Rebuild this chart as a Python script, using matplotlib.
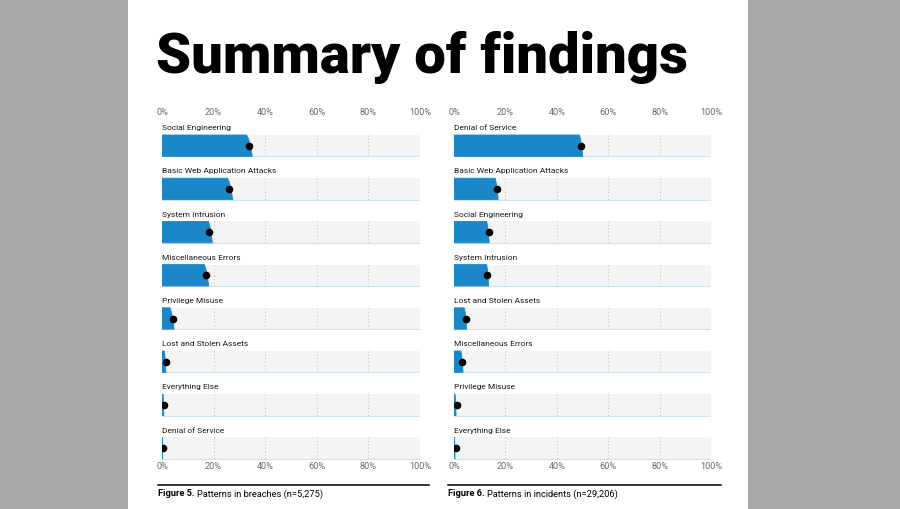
import matplotlib
matplotlib.use("Agg")
import matplotlib.pyplot as plt
from matplotlib.patches import Polygon, Rectangle
from matplotlib.lines import Line2D
import matplotlib.transforms as mtransforms

# ---------------- data ----------------
left_categories = ["Social Engineering", "Basic Web Application Attacks", "System Intrusion",
                   "Miscellaneous Errors", "Privilege Misuse", "Lost and Stolen Assets",
                   "Everything Else", "Denial of Service"]
left_values = [33.6, 26.1, 18.4, 17.1, 4.1, 1.4, 0.7, 0.2]
left_bar_top = [32.8, 25.4, 18.0, 16.4, 3.1, 0.9, 0.4, 0.1]
left_bar_bottom = [35.0, 27.4, 19.5, 18.1, 4.7, 1.5, 0.7, 0.2]

right_categories = ["Denial of Service", "Basic Web Application Attacks", "Social Engineering",
                    "System Intrusion", "Lost and Stolen Assets", "Miscellaneous Errors",
                    "Privilege Misuse", "Everything Else"]
right_values = [49.4, 16.8, 13.5, 13.0, 4.5, 3.2, 1.0, 0.6]
right_bar_top = [48.8, 16.0, 12.7, 12.7, 4.0, 2.7, 0.4, 0.2]
right_bar_bottom = [50.1, 17.2, 13.7, 13.5, 4.9, 3.5, 0.8, 0.4]

tick_values = [0, 20, 40, 60, 80, 100]
tick_labels = ["0%", "20%", "40%", "60%", "80%", "100%"]

title_text = "Summary of findings"
left_caption = ("Figure 5.", "Patterns in breaches (n=5,275)")
right_caption = ("Figure 6.", "Patterns in incidents (n=29,206)")

# ---------------- style ----------------
W, H = 900, 510
BLUE = "#1b87c9"
BAND = "#f4f4f4"
BAND_EDGE = "#cfe3f0"
GRID = "#bdbdbd"
PAGE_BG = "#a8a8a8"
FONT = ["Roboto", "DejaVu Sans"]

fig = plt.figure(figsize=(W / 100, H / 100), dpi=100)
fig.patch.set_facecolor(PAGE_BG)

page = fig.add_axes([0, 0, 1, 1])
page.set_xlim(0, W)
page.set_ylim(H, 0)
page.axis("off")
page.add_patch(Rectangle((128, 0), 620, H, facecolor="white", edgecolor="none"))

page.text(156, 73, title_text, fontsize=40.5, fontweight=900, family=FONT,
          ha="left", va="baseline", color="black")

BAND_H = 0.495
Y_TOP, Y_BOT = -0.6, 7.3


def panel(x0, x1, cats, vals, btop, bbot):
    row_pitch = 43.2
    top_px = 146.7 + Y_TOP * row_pitch
    bot_px = 146.7 + Y_BOT * row_pitch
    ax = fig.add_axes([x0 / W, 1 - bot_px / H, (x1 - x0) / W, (bot_px - top_px) / H])
    ax.set_xlim(0, 100)
    ax.set_ylim(Y_BOT, Y_TOP)
    ax.axis("off")
    ax.patch.set_alpha(0)
    for i, (c, v, t, b) in enumerate(zip(cats, vals, btop, bbot)):
        y0 = i - BAND_H / 2
        y1 = i + BAND_H / 2
        ax.add_patch(Rectangle((0, y0), 100, BAND_H, facecolor=BAND, edgecolor="none", zorder=1))
        ax.plot([0, 100], [y1, y1], color=BAND_EDGE, lw=0.8, zorder=2, solid_capstyle="butt")
        ax.vlines(tick_values[1:], y0, y1, colors=GRID, linestyles=(0, (1, 2.5)), lw=0.7, zorder=2)
        poly = [(0, y0), (t, y0), (t + (b - t) * 0.35, y0 + BAND_H * 0.2),
                (t + (b - t) * 0.7, y0 + BAND_H * 0.55), (b, y1), (0, y1)]
        ax.add_patch(Polygon(poly, closed=True, facecolor=BLUE, edgecolor=BLUE, lw=0.6, zorder=3))
        ax.scatter([v], [i], s=30, color="black", zorder=4, linewidths=0)
        ax.text(0, i - 0.43, c, fontsize=6.0, family=FONT, color="#1a1a1a",
                ha="left", va="center")
    tr = mtransforms.blended_transform_factory(ax.transData, fig.transFigure)
    for tv, tl in zip(tick_values, tick_labels):
        ax.text(tv, 1 - 112.7 / H, tl, transform=tr, fontsize=6.6, family=FONT,
                color="#6b6b6b", ha="center", va="center")
        ax.text(tv, 1 - 467 / H, tl, transform=tr, fontsize=6.6, family=FONT,
                color="#6b6b6b", ha="center", va="center")
    return ax


panel(162, 420, left_categories, left_values, left_bar_top, left_bar_bottom)
panel(454, 711, right_categories, right_values, right_bar_top, right_bar_bottom)

page.add_line(Line2D([158, 429], [486, 486], color="black", lw=1.1))
page.add_line(Line2D([448, 721], [486, 486], color="black", lw=1.1))

fig.canvas.draw()
renderer = fig.canvas.get_renderer()
inv = page.transData.inverted()
for x, (bold, rest) in [(158, left_caption), (448, right_caption)]:
    t = page.text(x, 494, bold, fontsize=6.7, fontweight="bold", family=FONT,
                  ha="left", va="center", color="black")
    bb = t.get_window_extent(renderer)
    xr = inv.transform((bb.x1, bb.y0))[0]
    page.text(xr + 2, 494, rest, fontsize=6.7, family=FONT, ha="left", va="center",
              color="black")

fig.savefig("out.png", dpi=100, facecolor=fig.get_facecolor())
